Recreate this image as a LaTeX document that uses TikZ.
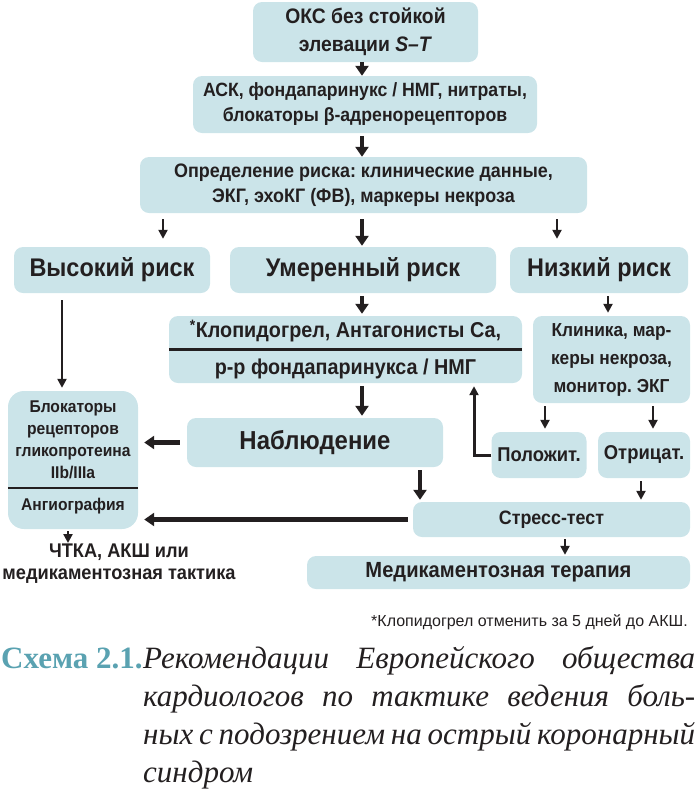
\documentclass[tikz,border=0pt]{standalone}
\usepackage{fontspec}
\setmainfont[FakeStretch=0.92]{Liberation Sans}
\newfontfamily\notefont{Liberation Sans}
\newfontfamily\capserif{Liberation Serif}
\usetikzlibrary{arrows.meta, positioning, calc}
\definecolor{boxblue}{HTML}{CBE4E9}
\definecolor{ink}{HTML}{231F20}
\definecolor{capteal}{HTML}{5AA2B1}
\newcommand\fsz[2]{\fontsize{#1pt}{#2pt}\selectfont}
\frenchspacing

\begin{document}
\begin{tikzpicture}[x=1pt, y=-1pt,
  box/.style={fill=boxblue, rounded corners=9pt, inner sep=0pt, align=center, text=ink, font=\bfseries},
  plain/.style={inner sep=0pt, align=center, text=ink, font=\bfseries},
  capline/.style={inner sep=0pt, anchor=base west, text=ink, font=\capserif\itshape\fsz{31}{38}},
  bigarr/.style={draw=ink, line width=4.5pt, -{Triangle[length=10pt,width=13pt]}},
  midarr/.style={draw=ink, line width=3pt, -{Triangle[length=9pt,width=9pt]}},
  thinarr/.style={draw=ink, line width=2.4pt, -{Triangle[length=9pt,width=9pt]}}]
\useasboundingbox (0,0) rectangle (700,801);

% ============= boxes =============
\node[box, minimum width=225pt, minimum height=60pt, font=\bfseries\fsz{21}{28}] (oks) at (365.5,32)
  {ОКС без стойкой\\элевации \textit{S–T}};
\node[box, minimum width=344pt, minimum height=57pt, font=\bfseries\fsz{19.2}{25}] (ask) at (365,104.5)
  {АСК, фондапаринукс / НМГ, нитраты,\\блокаторы β-адренорецепторов};
\node[box, minimum width=447pt, minimum height=56pt, font=\bfseries\fsz{19.5}{25}] (risk) at (363.5,185)
  {Определение риска: клинические данные,\\ЭКГ, эхоКГ (ФВ), маркеры некроза};

% --- three risk levels ---
\node[box, minimum width=196pt, minimum height=46pt, font=\bfseries\fsz{25.5}{28}] (hi) at (112,270) {Высокий риск};
\node[box, minimum width=266pt, minimum height=46pt, font=\bfseries\fsz{25.5}{28}] (mid) at (363,270) {Умеренный риск};
\node[box, minimum width=178pt, minimum height=46pt, font=\bfseries\fsz{25.5}{28}] (low) at (599,270) {Низкий риск};

% --- moderate branch ---
\node[box, minimum width=353pt, minimum height=67pt, font=\bfseries\fsz{21.5}{37}] (clop) at (345.5,349.5)
  {\textsuperscript{*}Клопидогрел, Антагонисты Са,\\р-р фондапаринукса / НМГ};
\draw[ink, line width=3.5pt] (clop.west) -- (clop.east);
\node[box, minimum width=256pt, minimum height=49pt, font=\bfseries\fsz{26}{28}] (obs) at (315,442.5) {Наблюдение};

% --- low branch ---
\node[box, minimum width=157pt, minimum height=87pt, font=\bfseries\fsz{18.8}{28}] (clin) at (611.5,359.5)
  {Клиника, мар-\\керы некроза,\\монитор. ЭКГ};
\node[box, minimum width=95pt, minimum height=46pt, font=\bfseries\fsz{20}{22}] (pos) at (539,455) {Положит.};
\node[box, minimum width=92pt, minimum height=46pt, font=\bfseries\fsz{20}{22}] (neg) at (644,455) {Отрицат.};
\node[box, minimum width=277pt, minimum height=35pt, font=\bfseries\fsz{19.4}{22}] (stress) at (551.5,519.5) {Стресс-тест};
\node[box, minimum width=383pt, minimum height=33pt, font=\bfseries\fsz{21.9}{24}] (med) at (498.5,572.5) {Медикаментозная терапия};

% --- high branch ---
\node[box, rounded corners=16pt, minimum width=130pt, minimum height=138pt] (gpb) at (73,460) {};
\node[plain, font=\bfseries\fsz{17}{22}] (gpbtext) at (73,440) {Блокаторы\\рецепторов\\гликопротеина\\IIb/IIIa};
\node[plain, font=\bfseries\fsz{17}{22}] (angio) at (73,506) {Ангиография};
\coordinate (gpbrule) at (0,488);
\draw[ink, line width=2pt] (gpb.west |- gpbrule) -- (gpb.east |- gpbrule);
\node[plain, font=\bfseries\fsz{19.8}{22}] (pcta) at (119,564) {ЧТКА, АКШ или\\медикаментозная тактика};

% ============= connectors =============
\coordinate (xmid) at (362,0);
\coordinate (xhi) at (163,0);
\coordinate (xlow) at (557,0);
\coordinate (xgpb) at (62,0);
\coordinate (xclin) at (608,0);
\coordinate (xpos) at (545,0);
\coordinate (xneg) at (653,0);
\coordinate (xneg2) at (641,0);
\coordinate (xback) at (474,0);
\coordinate (xobs) at (420,0);
\coordinate (xstress) at (565,0);
\coordinate (xpcta) at (68,0);

\draw[bigarr] (xmid |- oks.south) -- (xmid |- ask.north);
\draw[bigarr, shorten <=3pt] (xmid |- ask.south) -- (xmid |- risk.north);
\draw[thinarr, shorten <=6pt, shorten >=8pt] (xhi |- risk.south) -- (xhi |- hi.north);
\draw[bigarr, shorten <=6pt, shorten >=1pt] (xmid |- risk.south) -- (xmid |- mid.north);
\draw[thinarr, shorten <=6pt, shorten >=8pt] (xlow |- risk.south) -- (xlow |- low.north);
\draw[thinarr, shorten <=7pt, shorten >=3pt] (xgpb |- hi.south) -- (xgpb |- gpb.north);
\draw[bigarr, shorten <=3pt, shorten >=2pt] (xmid |- mid.south) -- (xmid |- clop.north);
\draw[thinarr, shorten <=3pt, shorten >=3pt] (xclin |- low.south) -- (xclin |- clin.north);
\draw[bigarr, shorten <=3pt, shorten >=2pt] (xmid |- clop.south) -- (xmid |- obs.north);
\draw[thinarr, shorten <=3pt, shorten >=3pt] (xpos |- clin.south) -- (xpos |- pos.north);
\draw[thinarr, shorten <=3pt, shorten >=3pt] (xneg |- clin.south) -- (xneg |- neg.north);
\draw[midarr, shorten >=3pt] (pos.west) -| (xback |- clop.south);
\draw[bigarr, shorten <=7pt, shorten >=6pt] (obs.west) -- (gpb.east |- obs.west);
\draw[bigarr, shorten <=3pt, shorten >=2pt] (xobs |- obs.south) -- (xobs |- stress.north);
\draw[thinarr, shorten <=3pt, shorten >=2pt] (xneg2 |- neg.south) -- (xneg2 |- stress.north);
\draw[bigarr, line width=5.5pt, shorten <=5pt, shorten >=6pt] (stress.west) -- (gpb.east |- stress.west);
\draw[thinarr, shorten <=2pt, shorten >=1pt] (xstress |- stress.south) -- (xstress |- med.north);
\draw[thinarr, shorten <=2pt, shorten >=1pt] (xpcta |- gpb.south) -- (xpcta |- pcta.north);

% ============= footnote and caption =============
\node[inner sep=0pt, anchor=base east, text=ink, font=\notefont\fsz{16}{18}] (foot) at (688,626)
  {*Клопидогрел отменить за 5 дней до АКШ.};
\node[inner sep=0pt, anchor=base west, text=capteal, font=\capserif\bfseries\fsz{31}{38}] (capnum) at (1,668) {Схема 2.1.};
\node[capline] (caprow1) at (143,668) {\makebox[552pt][s]{Рекомендации Европейского общества}};
\node[capline] (caprow2) at (143,706) {\makebox[552pt][s]{кардиологов по тактике ведения боль-}};
\node[capline] (caprow3) at (143,744) {\makebox[552pt][s]{ных с подозрением на острый коронарный}};
\node[capline] (caprow4) at (143,782) {синдром};
\end{tikzpicture}
\end{document}
